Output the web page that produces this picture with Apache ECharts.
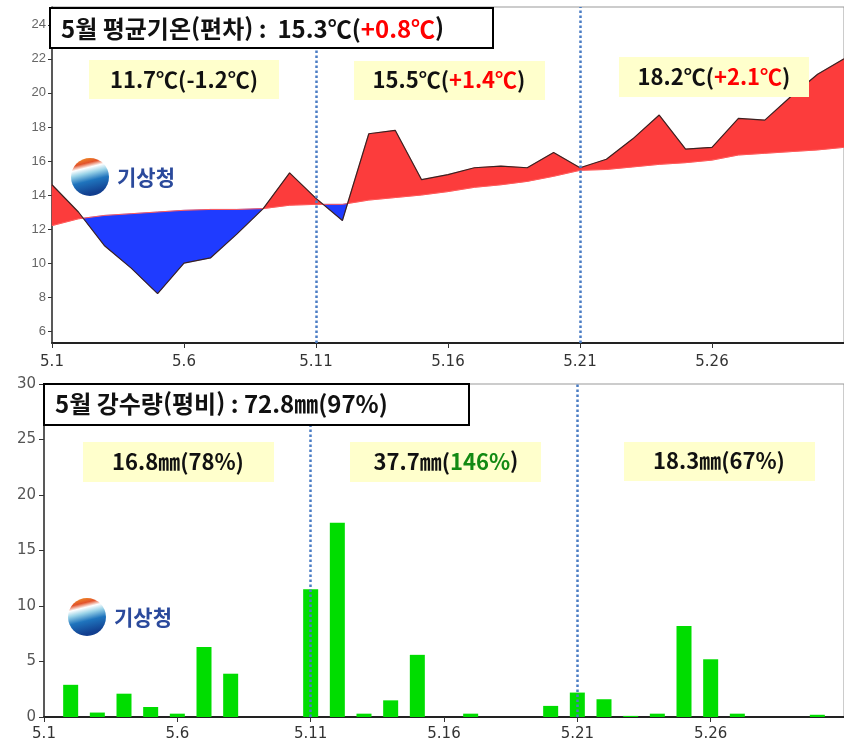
<!DOCTYPE html>
<html lang="ko">
<head>
    <meta charset="utf-8">
    <title>5월 기온 · 강수량</title>
    <script src="https://cdn.jsdelivr.net/npm/echarts@6/dist/echarts.min.js"></script>
    <style>
        html, body { margin: 0; padding: 0; background: #fff; }
        #top { width: 844px; height: 370px; }
        #bottom { width: 844px; height: 376px; }
    </style>
</head>
<body>
    <div id="top"></div>
    <div id="bottom"></div>

    <script type="text/javascript">
    // 날짜 (5월 1일 ~ 31일)
    var days = [1, 2, 3, 4, 5, 6, 7, 8, 9, 10, 11, 12, 13, 14, 15, 16,
                17, 18, 19, 20, 21, 22, 23, 24, 25, 26, 27, 28, 29, 30, 31];
    var dayTicks = [1, 6, 11, 16, 21, 26];
    var dekadDays = [11, 21];

    // 일평균기온 (℃)
    var tempMean = [14.6, 13.0, 11.0, 9.7, 8.2, 10.0, 10.3, 11.7, 13.2, 15.3,
                    13.8, 12.5, 17.6, 17.8, 14.9, 15.2, 15.6, 15.7, 15.6, 16.5,
                    15.6, 16.1, 17.3, 18.7, 16.7, 16.8, 18.5, 18.4, 19.8, 21.1, 22.0];
    // 평년 기온 (℃)
    var tempNormal = [12.2, 12.6, 12.8, 12.9, 13.0, 13.1, 13.15, 13.15, 13.2, 13.4,
                      13.45, 13.45, 13.7, 13.85, 14.0, 14.2, 14.45, 14.6, 14.8, 15.1,
                      15.45, 15.5, 15.65, 15.8, 15.9, 16.05, 16.35, 16.45, 16.55, 16.65, 16.8];
    var tempTicks = [6, 8, 10, 12, 14, 16, 18, 20, 22, 24];

    // 일강수량 (mm)
    var rain = [0, 2.9, 0.4, 2.1, 0.9, 0.3, 6.3, 3.9, 0, 0,
                11.5, 17.5, 0.3, 1.5, 5.6, 0, 0.3, 0, 0, 1.0,
                2.2, 1.6, 0.1, 0.3, 8.2, 5.2, 0.3, 0, 0, 0.2, 0];

    var KR = '"Noto Sans CJK KR", "Noto Sans", sans-serif';
    var RED = '#fc3c3c', BLUE = '#1f3bff';

    function pairs(vals) {
        return vals.map(function (v, i) { return [days[i], v]; });
    }
    function sgn(d) { return d > 0 ? 1 : (d < 0 ? -1 : 0); }

    // 편차 영역: 평년선과 만나는 곳에서 끊어 같은 부호끼리 하나의 다각형으로 그린다
    function renderFill(params, api) {
        var runs = [], top = [], bot = [], s = 0;
        function flush() {
            if (top.length > 1) runs.push({ s: s, pts: top.concat(bot.slice().reverse()) });
        }
        for (var i = 0; i < days.length; i++) {
            var d = tempMean[i] - tempNormal[i];
            var p = [days[i], tempMean[i]], q = [days[i], tempNormal[i]];
            if (i > 0) {
                var dp = tempMean[i - 1] - tempNormal[i - 1];
                if (dp * d < 0) {
                    var f = dp / (dp - d);
                    var c = [days[i - 1] + f * (days[i] - days[i - 1]),
                             tempNormal[i - 1] + f * (tempNormal[i] - tempNormal[i - 1])];
                    top.push(c); bot.push(c);
                    flush();
                    top = [c]; bot = [c]; s = 0;
                }
            }
            top.push(p); bot.push(q);
            if (s === 0) s = sgn(d);
            if (d === 0 && i > 0) {
                flush();
                top = [p]; bot = [q]; s = 0;
            }
        }
        flush();
        return {
            type: 'group',
            children: runs.map(function (r) {
                var col = r.s >= 0 ? RED : BLUE;
                return {
                    type: 'polygon',
                    shape: { points: r.pts.map(function (pt) { return api.coord(pt); }) },
                    style: { fill: col, stroke: col, lineWidth: 0.5 }
                };
            })
        };
    }

    function box(x, y, w, h, fill, border) {
        return {
            type: 'rect', z: 100,
            shape: { x: x, y: y, width: w, height: h },
            style: border ? { fill: fill, stroke: '#000', lineWidth: 2 } : { fill: fill }
        };
    }
    function label(x, y, text, size, align, color2) {
        return {
            type: 'text', z: 101, x: x, y: y,
            style: {
                text: text, align: align || 'center', verticalAlign: 'middle',
                rich: {
                    b: { fontFamily: KR, fontWeight: 'bold', fontSize: size, fill: '#111' },
                    c: { fontFamily: KR, fontWeight: 'bold', fontSize: size, fill: color2 || '#ff0000' }
                }
            }
        };
    }
    function logo(cx, cy) {
        return [{
            type: 'circle', z: 50,
            shape: { cx: cx, cy: cy, r: 19 },
            style: {
                fill: new echarts.graphic.LinearGradient(0, 0, 0.25, 1, [
                    { offset: 0, color: '#f5a623' },
                    { offset: 0.22, color: '#e2532b' },
                    { offset: 0.34, color: '#ffffff' },
                    { offset: 0.48, color: '#9ad3e8' },
                    { offset: 0.68, color: '#1f74bd' },
                    { offset: 1, color: '#123f8f' }
                ])
            }
        }, {
            type: 'text', z: 50, x: cx + 27, y: cy,
            style: { text: '기상청', fontFamily: KR, fontWeight: 'bold', fontSize: 21,
                     fill: '#2b4a9c', verticalAlign: 'middle' }
        }];
    }

    var dotted = {
        silent: true, symbol: ['none', 'none'], label: { show: false },
        lineStyle: { color: '#4a7cc4', type: 'dotted', width: 2.5 },
        data: dekadDays.map(function (d) { return { xAxis: d }; })
    };

    // ---------------- 기온 ----------------
    var topChart = echarts.init(document.getElementById('top'));
    topChart.setOption({
        animation: false,
        grid: { left: 52, right: -10, top: 7, bottom: 27, show: true, borderColor: '#999', borderWidth: 1 },
        xAxis: {
            type: 'value', min: 1, max: 31,
            splitLine: { show: false },
            axisLine: { lineStyle: { color: '#222', width: 2 } },
            axisTick: { customValues: dayTicks, length: 5, lineStyle: { color: '#333' } },
            axisLabel: { customValues: dayTicks, fontSize: 15, color: '#333', margin: 12,
                         fontFamily: 'DejaVu Sans', formatter: function (v) { return '5.' + v; } }
        },
        yAxis: {
            type: 'value', min: 5.3, max: 25.05,
            splitLine: { show: false },
            axisLine: { show: true, lineStyle: { color: '#333', width: 1.5 } },
            axisTick: { show: true, customValues: tempTicks, length: 4, lineStyle: { color: '#333' } },
            axisLabel: { customValues: tempTicks, fontSize: 13, color: '#666', margin: 6,
                         fontFamily: 'Liberation Sans' }
        },
        series: [{
            type: 'custom',
            renderItem: renderFill,
            data: [[days[0], tempMean[0]]],
            z: 1
        }, {
            type: 'line', data: pairs(tempNormal), symbol: 'none',
            lineStyle: { color: '#ff5a5a', width: 1 }, z: 2
        }, {
            type: 'line', data: pairs(tempMean), symbol: 'none',
            lineStyle: { color: '#3a2222', width: 1.2 }, z: 3,
            markLine: dotted
        }],
        graphic: [
            box(50, 8, 443, 40, '#fff', true),
            label(61, 29, '{b|5월 평균기온(편차) :  15.3℃(}{c|+0.8℃}{b|)}', 24, 'left'),
            box(89, 60, 190, 39, '#ffffcc'),
            label(184, 80, '{b|11.7℃(-1.2℃)}', 22),
            box(354, 61, 191, 39, '#ffffcc'),
            label(449, 80, '{b|15.5℃(}{c|+1.4℃}{b|)}', 22),
            box(619, 57, 190, 40, '#ffffcc'),
            label(714, 77, '{b|18.2℃(}{c|+2.1℃}{b|)}', 22)
        ].concat(logo(90, 177))
    });

    // ---------------- 강수량 ----------------
    var bottomChart = echarts.init(document.getElementById('bottom'));
    bottomChart.setOption({
        animation: false,
        grid: { left: 44, right: -2, top: 14, bottom: 29, show: true, borderColor: '#999', borderWidth: 1 },
        xAxis: {
            type: 'value', min: 1, max: 31,
            splitLine: { show: false },
            axisLine: { lineStyle: { color: '#222', width: 2 } },
            axisTick: { customValues: dayTicks, length: 5, lineStyle: { color: '#333' } },
            axisLabel: { customValues: dayTicks, fontSize: 15, color: '#333', margin: 10,
                         fontFamily: 'DejaVu Sans', formatter: function (v) { return '5.' + v; } }
        },
        yAxis: {
            type: 'value', min: 0, max: 30, interval: 5,
            splitLine: { show: false },
            axisLine: { show: true, lineStyle: { color: '#333', width: 1.5 } },
            axisTick: { show: true, length: 5, lineStyle: { color: '#333' } },
            axisLabel: { fontSize: 15, color: '#555', margin: 8, fontFamily: 'DejaVu Sans' }
        },
        series: [{
            type: 'bar', data: pairs(rain), barWidth: 15,
            itemStyle: { color: '#00dd00' },
            markLine: dotted
        }],
        graphic: [
            box(44, 384 - 370, 425, 41, '#fff', true),
            label(55, 404 - 370, '{b|5월 강수량(평비) : 72.8㎜(97%)}', 24, 'left'),
            box(83, 442 - 370, 191, 40, '#ffffcc'),
            label(178, 462 - 370, '{b|16.8㎜(78%)}', 22),
            box(350, 442 - 370, 191, 40, '#ffffcc'),
            label(446, 462 - 370, '{b|37.7㎜(}{c|146%}{b|)}', 22, 'center', '#138a13'),
            box(624, 442 - 370, 191, 39, '#ffffcc'),
            label(719, 461 - 370, '{b|18.3㎜(67%)}', 22)
        ].concat(logo(87, 617 - 370))
    });
    </script>
</body>
</html>
